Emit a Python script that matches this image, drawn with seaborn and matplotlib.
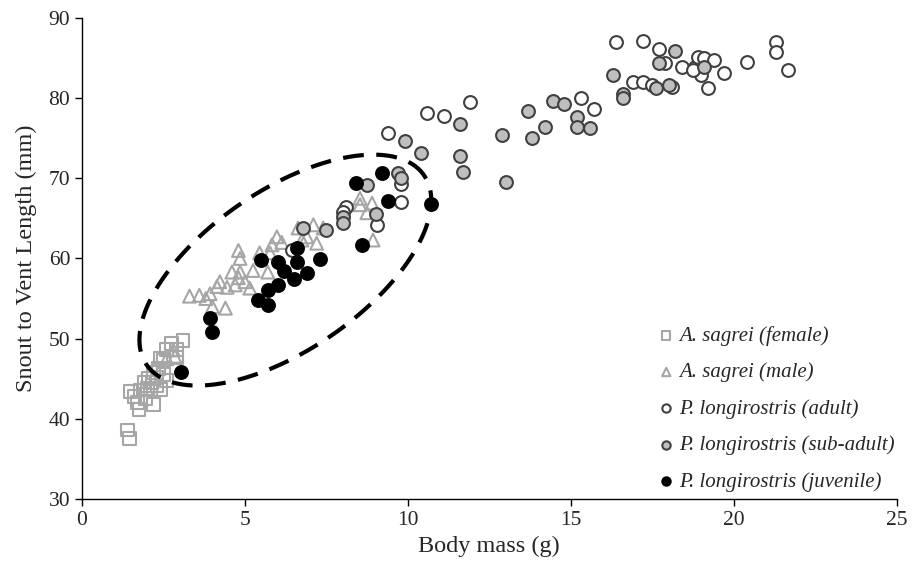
import numpy as np
import pandas as pd
import matplotlib
matplotlib.use("Agg")
import matplotlib.pyplot as plt
import seaborn as sns

# A. sagrei (female)
fem_x = [1.40, 1.45, 1.50, 1.60, 1.70, 1.75, 1.80, 1.90, 1.95, 2.00, 2.05, 2.10, 2.15, 2.20,
         2.30, 2.30, 2.35, 2.40, 2.40, 2.50, 2.50, 2.60, 2.60, 2.75, 2.90, 2.90, 3.10, 2.20]
fem_y = [38.6, 37.5, 43.4, 42.8, 42.0, 41.2, 43.6, 44.6, 42.5, 43.8, 45.0, 43.6, 44.5, 45.8,
         44.2, 45.2, 46.3, 43.7, 47.6, 47.3, 45.5, 48.6, 44.8, 49.4, 48.6, 47.7, 49.8, 41.8]

# A. sagrei (male)
male_x = [2.60, 2.80, 2.85, 3.30, 3.60, 3.80, 3.93, 4.00, 4.14, 4.23, 4.40, 4.45, 4.60, 4.70,
          4.80, 4.80, 4.85, 4.85, 5.00, 5.15, 5.25, 5.45, 5.70, 5.77, 5.83, 5.98, 6.13, 6.63,
          6.90, 7.10, 7.20, 8.53, 8.90, 8.53, 8.74, 8.93, 6.75, 7.40]
male_y = [47.5, 48.6, 47.8, 55.3, 55.4, 55.0, 55.6, 54.0, 56.5, 57.1, 53.8, 56.4, 58.3, 56.7,
          57.6, 61.0, 60.0, 58.3, 57.1, 56.3, 58.5, 60.7, 58.3, 60.7, 61.7, 62.7, 62.0, 63.8,
          62.7, 64.2, 61.9, 67.5, 66.9, 66.7, 65.7, 62.3, 62.3, 63.8]

# P. longirostris (adult)
adult_x = [6.45, 8.10, 8.00, 9.05, 9.80, 9.80, 9.40, 10.6, 11.1, 11.9, 15.3, 15.7, 16.4, 17.2,
           17.7, 17.9, 18.4, 16.9, 17.2, 17.5, 18.1, 18.8, 18.9, 19.1, 19.4, 19.0, 19.2, 19.7,
           18.75, 20.4, 21.3, 21.3, 21.65]
adult_y = [61.0, 66.4, 65.8, 64.2, 67.0, 69.3, 75.6, 78.1, 77.8, 79.5, 80.0, 78.7, 87.0, 87.1,
           86.1, 84.4, 83.9, 82.0, 82.0, 81.6, 81.4, 83.9, 85.1, 85.0, 84.7, 82.9, 81.2, 83.1,
           83.5, 84.5, 87.0, 85.7, 83.5]

# P. longirostris (sub-adult)
sub_x = [6.78, 7.50, 8.00, 8.00, 8.74, 9.02, 9.70, 9.80, 9.90, 10.4, 11.6, 11.6, 11.7, 12.9,
         13.0, 13.7, 13.8, 14.2, 14.45, 14.8, 15.2, 15.2, 15.6, 16.3, 16.6, 16.6, 17.6, 17.7,
         18.0, 18.2, 19.1]
sub_y = [63.8, 63.6, 65.2, 64.4, 69.2, 65.6, 70.6, 70.0, 74.6, 73.1, 76.8, 72.8, 70.8, 75.4,
         69.5, 78.4, 75.0, 76.4, 79.6, 79.3, 77.6, 76.4, 76.3, 82.9, 80.5, 80.0, 81.2, 84.4,
         81.6, 85.9, 83.9]

# P. longirostris (juvenile)
juv_x = [3.04, 3.93, 4.00, 5.50, 5.40, 5.70, 5.70, 6.00, 6.00, 6.20, 6.60, 6.60, 6.50, 6.90,
         7.30, 8.60, 8.40, 9.20, 9.40, 10.7]
juv_y = [45.8, 52.6, 50.8, 59.8, 54.8, 54.2, 56.1, 56.7, 59.6, 58.4, 61.3, 59.5, 57.5, 58.2,
         59.9, 61.7, 69.4, 70.7, 67.2, 66.8]

groups = ["A. sagrei (female)", "A. sagrei (male)", "P. longirostris (adult)",
          "P. longirostris (sub-adult)", "P. longirostris (juvenile)"]

df = pd.concat([
    pd.DataFrame({"mass": fem_x, "svl": fem_y, "group": groups[0]}),
    pd.DataFrame({"mass": male_x, "svl": male_y, "group": groups[1]}),
    pd.DataFrame({"mass": adult_x, "svl": adult_y, "group": groups[2]}),
    pd.DataFrame({"mass": sub_x, "svl": sub_y, "group": groups[3]}),
    pd.DataFrame({"mass": juv_x, "svl": juv_y, "group": groups[4]}),
])

# marker, face, edge
styles = {
    groups[0]: ("s", "none", "#a6a6a6"),
    groups[1]: ("^", "none", "#a6a6a6"),
    groups[2]: ("o", "white", "#404040"),
    groups[3]: ("o", "#bfbfbf", "#404040"),
    groups[4]: ("o", "black", "black"),
}

sns.set_style("white")
plt.rcParams["font.family"] = ["Liberation Serif", "DejaVu Serif"]

fig = plt.figure(figsize=(9.16, 5.64), dpi=100)
ax = fig.add_axes([0.0895, 0.1152, 0.8895, 0.853])

for g in groups:
    m, fc, ec = styles[g]
    sub = df[df["group"] == g]
    sns.scatterplot(data=sub, x="mass", y="svl", marker=m, s=85, facecolor=fc,
                    edgecolor=ec, linewidth=1.5, label=g, ax=ax, zorder=3)

ax.set_xlim(0, 25)
ax.set_ylim(30, 90)
ax.set_xticks([0, 5, 10, 15, 20, 25])
ax.set_yticks([30, 40, 50, 60, 70, 80, 90])
ax.set_xlabel("Body mass (g)", fontsize=17.5, labelpad=4)
ax.set_ylabel("Snout to Vent Length (mm)", fontsize=17.5, labelpad=8)
ax.tick_params(labelsize=15.5, direction="out", length=5, width=1, color="black",
               left=True, bottom=True)
for side in ["top", "right"]:
    ax.spines[side].set_visible(False)
for side in ["left", "bottom"]:
    ax.spines[side].set_color("black")
    ax.spines[side].set_linewidth(1)

# dashed ellipse around the juvenile / small-body cloud (shape set in screen pixels)
cx, cy = 6.24, 58.55
a_px, b_px, theta = 168, 80, np.deg2rad(34.3)
ppx = ax.bbox.width / 25
ppy = ax.bbox.height / 60
t = np.linspace(0, 2 * np.pi, 400)
ex = cx + (a_px * np.cos(t) * np.cos(theta) - b_px * np.sin(t) * np.sin(theta)) / ppx
ey = cy + (a_px * np.cos(t) * np.sin(theta) + b_px * np.sin(t) * np.cos(theta)) / ppy
ax.plot(ex, ey, color="black", lw=3.0, ls=(0, (5, 3)), zorder=4)

leg = ax.legend(loc="lower right", bbox_to_anchor=(1.015, -0.015), frameon=False,
                prop={"style": "italic", "size": 15}, markerscale=0.65,
                handletextpad=0.15, labelspacing=0.8, borderaxespad=0.3,
                handlelength=0.9)

fig.savefig("out.png", dpi=100)
